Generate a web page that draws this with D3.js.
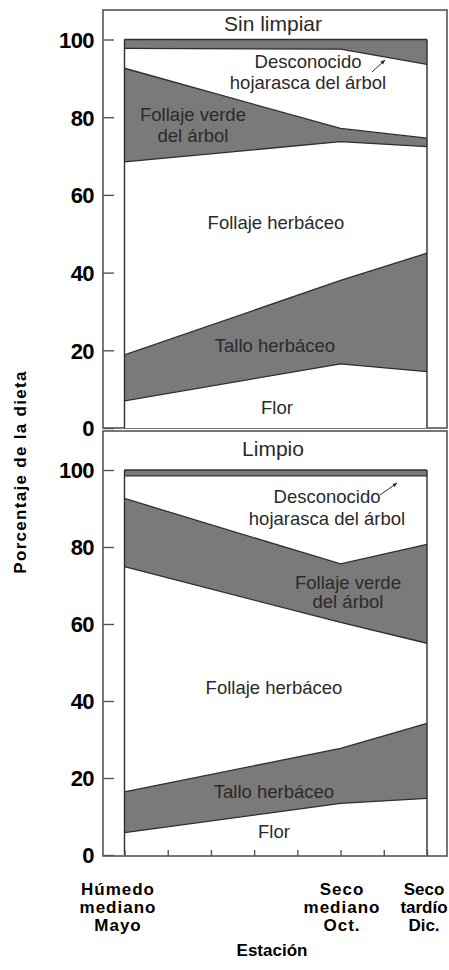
<!DOCTYPE html>
<html><head><meta charset="utf-8">
<script src="https://cdn.jsdelivr.net/npm/d3@7"></script>
<style>html,body{margin:0;padding:0;background:#fff;}svg{display:block;}</style>
</head><body>
<svg id="chart" width="449" height="970"></svg>
<script>
// ---- data ----
const months = [5, 10, 12];                 // Mayo, Oct., Dic.
const monthTicks = [5, 6, 7, 8, 9, 10, 11, 12];
const categories = ["Flor", "Tallo herbáceo", "Follaje herbáceo", "Follaje verde del árbol", "Hojarasca del árbol", "Desconocido"];
const yTicks = [0, 20, 40, 60, 80, 100];
const xLabels = [["Húmedo", "mediano", "Mayo"], ["Seco", "mediano", "Oct."], ["Seco", "tardío", "Dic."]];
const panelTitles = ["Sin limpiar", "Limpio"];

// Sin limpiar (% of diet)
const sinFlor      = [7.0, 16.5, 14.5];
const sinTallo     = [11.8, 21.5, 30.5];
const sinFollHerb  = [49.7, 35.7, 27.4];
const sinFollVerde = [24.1, 3.4, 2.2];
const sinHojarasca = [5.1, 20.4, 19.0];
const sinDescon    = [2.3, 2.5, 6.4];
// Limpio (% of diet)
const limFlor      = [5.8, 13.4, 14.7];
const limTallo     = [10.6, 14.3, 19.5];
const limFollHerb  = [58.5, 32.7, 20.8];
const limFollVerde = [17.7, 15.2, 25.7];
const limHojarasca = [5.9, 22.9, 17.8];
const limDescon    = [1.5, 1.5, 1.5];

const sinSeries = [sinFlor, sinTallo, sinFollHerb, sinFollVerde, sinHojarasca, sinDescon];
const limSeries = [limFlor, limTallo, limFollHerb, limFollVerde, limHojarasca, limDescon];

// ---- drawing ----
const svg = d3.select("#chart");
const DARK = "#7a7a7a", LINE = "#2e2e2e", FRAME = "#555";
const FONT = "'Liberation Sans', Arial, Helvetica, sans-serif";

const x = d3.scaleLinear().domain([5, 12]).range([124.5, 427]);

function rows(series) {
  return months.map((m, i) => {
    const r = { month: m };
    categories.forEach((c, k) => r[c] = series[k][i]);
    return r;
  });
}

const panels = [
  { series: sinSeries, frame: [103, 10, 447, 428], yr: [428, 39.5], title: [273, 25], bottomTicks: false,
    labels: [
      { t: ["Desconocido", "hojarasca del árbol"], x: 308, y: 68, dy: 21 },
      { t: ["Follaje verde", "del árbol"], x: 193, y: 121, dy: 21 },
      { t: ["Follaje herbáceo"], x: 276, y: 229 },
      { t: ["Tallo herbáceo"], x: 275, y: 352 },
      { t: ["Flor"], x: 277, y: 414 }
    ], arrow: [372, 72, 385, 60] },
  { series: limSeries, frame: [103, 431, 447, 856], yr: [855, 470], title: [273, 450], bottomTicks: true,
    labels: [
      { t: ["Desconocido", "hojarasca del árbol"], x: 327, y: 503, dy: 22 },
      { t: ["Follaje verde", "del árbol"], x: 348, y: 589, dy: 19 },
      { t: ["Follaje herbáceo"], x: 274, y: 694 },
      { t: ["Tallo herbáceo"], x: 274, y: 798 },
      { t: ["Flor"], x: 274, y: 838 }
    ], arrow: [380, 495, 397, 483] }
];

svg.append("defs").append("marker")
  .attr("id", "ah").attr("viewBox", "0 0 10 10").attr("refX", 9).attr("refY", 5)
  .attr("markerWidth", 5).attr("markerHeight", 5).attr("orient", "auto")
  .append("path").attr("d", "M0,1 L10,5 L0,9 Z").attr("fill", LINE);

panels.forEach((p, pi) => {
  const g = svg.append("g");
  const y = d3.scaleLinear().domain([0, 100]).range(p.yr);
  const stacked = d3.stack().keys(categories)(rows(p.series));
  const area = d3.area().x(d => x(d.data.month)).y0(d => y(d[0])).y1(d => y(d[1]));
  const line = d3.line().x(d => x(d.data.month)).y(d => y(d[1]));

  // frame
  const [fx0, fy0, fx1, fy1] = p.frame;
  g.append("rect").attr("x", fx0).attr("y", fy0).attr("width", fx1 - fx0).attr("height", fy1 - fy0)
    .attr("fill", "#fff").attr("stroke", FRAME).attr("stroke-width", 1.6);

  // bands
  g.selectAll("path.band").data(stacked).join("path")
    .attr("class", "band")
    .attr("d", area)
    .attr("fill", (d, i) => i % 2 === 1 ? DARK : "#fff");
  g.selectAll("path.bline").data(stacked).join("path")
    .attr("class", "bline")
    .attr("d", d => line(d))
    .attr("fill", "none").attr("stroke", LINE).attr("stroke-width", 1.3);
  // side edges
  [months[0], months[months.length - 1]].forEach(m => {
    g.append("line").attr("x1", x(m)).attr("x2", x(m)).attr("y1", y(0)).attr("y2", y(100))
      .attr("stroke", LINE).attr("stroke-width", 1.4);
  });

  // y axis ticks + labels
  const yAxis = d3.axisLeft(y).tickValues(yTicks).tickSize(0).tickPadding(0);
  const ya = g.append("g").attr("transform", `translate(${fx0},0)`).call(yAxis);
  ya.select(".domain").remove();
  ya.selectAll("text").attr("x", -9).attr("dy", "0.36em")
    .style("font-family", FONT).style("font-weight", "bold").style("font-size", "22px")
    .style("letter-spacing", "-0.6px").attr("fill", "#000");
  ya.selectAll(".tick").append("line").attr("x1", 0).attr("x2", 11).attr("stroke", FRAME).attr("stroke-width", 1.4);

  // bottom month ticks
  if (p.bottomTicks) {
    const xa = d3.axisBottom(x).tickValues(monthTicks).tickSize(-6).tickFormat("");
    const gx = g.append("g").attr("transform", `translate(0,${fy1})`).call(xa);
    gx.select(".domain").remove();
    gx.selectAll("line").attr("stroke", FRAME).attr("stroke-width", 1.4);
  }

  // title
  g.append("text").attr("x", p.title[0]).attr("y", p.title[1]).attr("text-anchor", "middle")
    .attr("dominant-baseline", "middle").style("font-family", FONT).style("font-size", "21px")
    .attr("fill", "#2a2a2a").text(panelTitles[pi]);

  // inner labels
  p.labels.forEach(l => {
    const t = g.append("text").attr("text-anchor", "middle").style("font-family", FONT)
      .style("font-size", "18.5px").attr("fill", "#2a2a2a");
    l.t.forEach((s, k) => t.append("tspan").attr("x", l.x).attr("y", l.y + k * (l.dy || 0)).text(s));
  });

  // arrow
  const a = p.arrow;
  g.append("line").attr("x1", a[0]).attr("y1", a[1]).attr("x2", a[2]).attr("y2", a[3])
    .attr("stroke", LINE).attr("stroke-width", 1).attr("marker-end", "url(#ah)");
});

// x labels
const xCenters = [118, 342, 424];
xLabels.forEach((lines, i) => {
  const t = svg.append("text").attr("text-anchor", "middle").style("font-family", FONT)
    .style("font-weight", "bold").style("font-size", "17px")
    .style("letter-spacing", i === 2 ? "0px" : "1px").attr("fill", "#000");
  lines.forEach((s, k) => t.append("tspan").attr("x", xCenters[i]).attr("y", 895 + k * 18).text(s));
});

svg.append("text").attr("x", 272).attr("y", 956).attr("text-anchor", "middle")
  .style("font-family", FONT).style("font-weight", "bold").style("font-size", "17px")
  .attr("fill", "#000").text("Estación");

svg.append("text").attr("transform", "translate(26,472) rotate(-90)").attr("text-anchor", "middle")
  .style("font-family", FONT).style("font-weight", "bold").style("font-size", "17px")
  .style("letter-spacing", "1.3px")
  .attr("fill", "#000").text("Porcentaje de la dieta");
</script>
</body></html>
